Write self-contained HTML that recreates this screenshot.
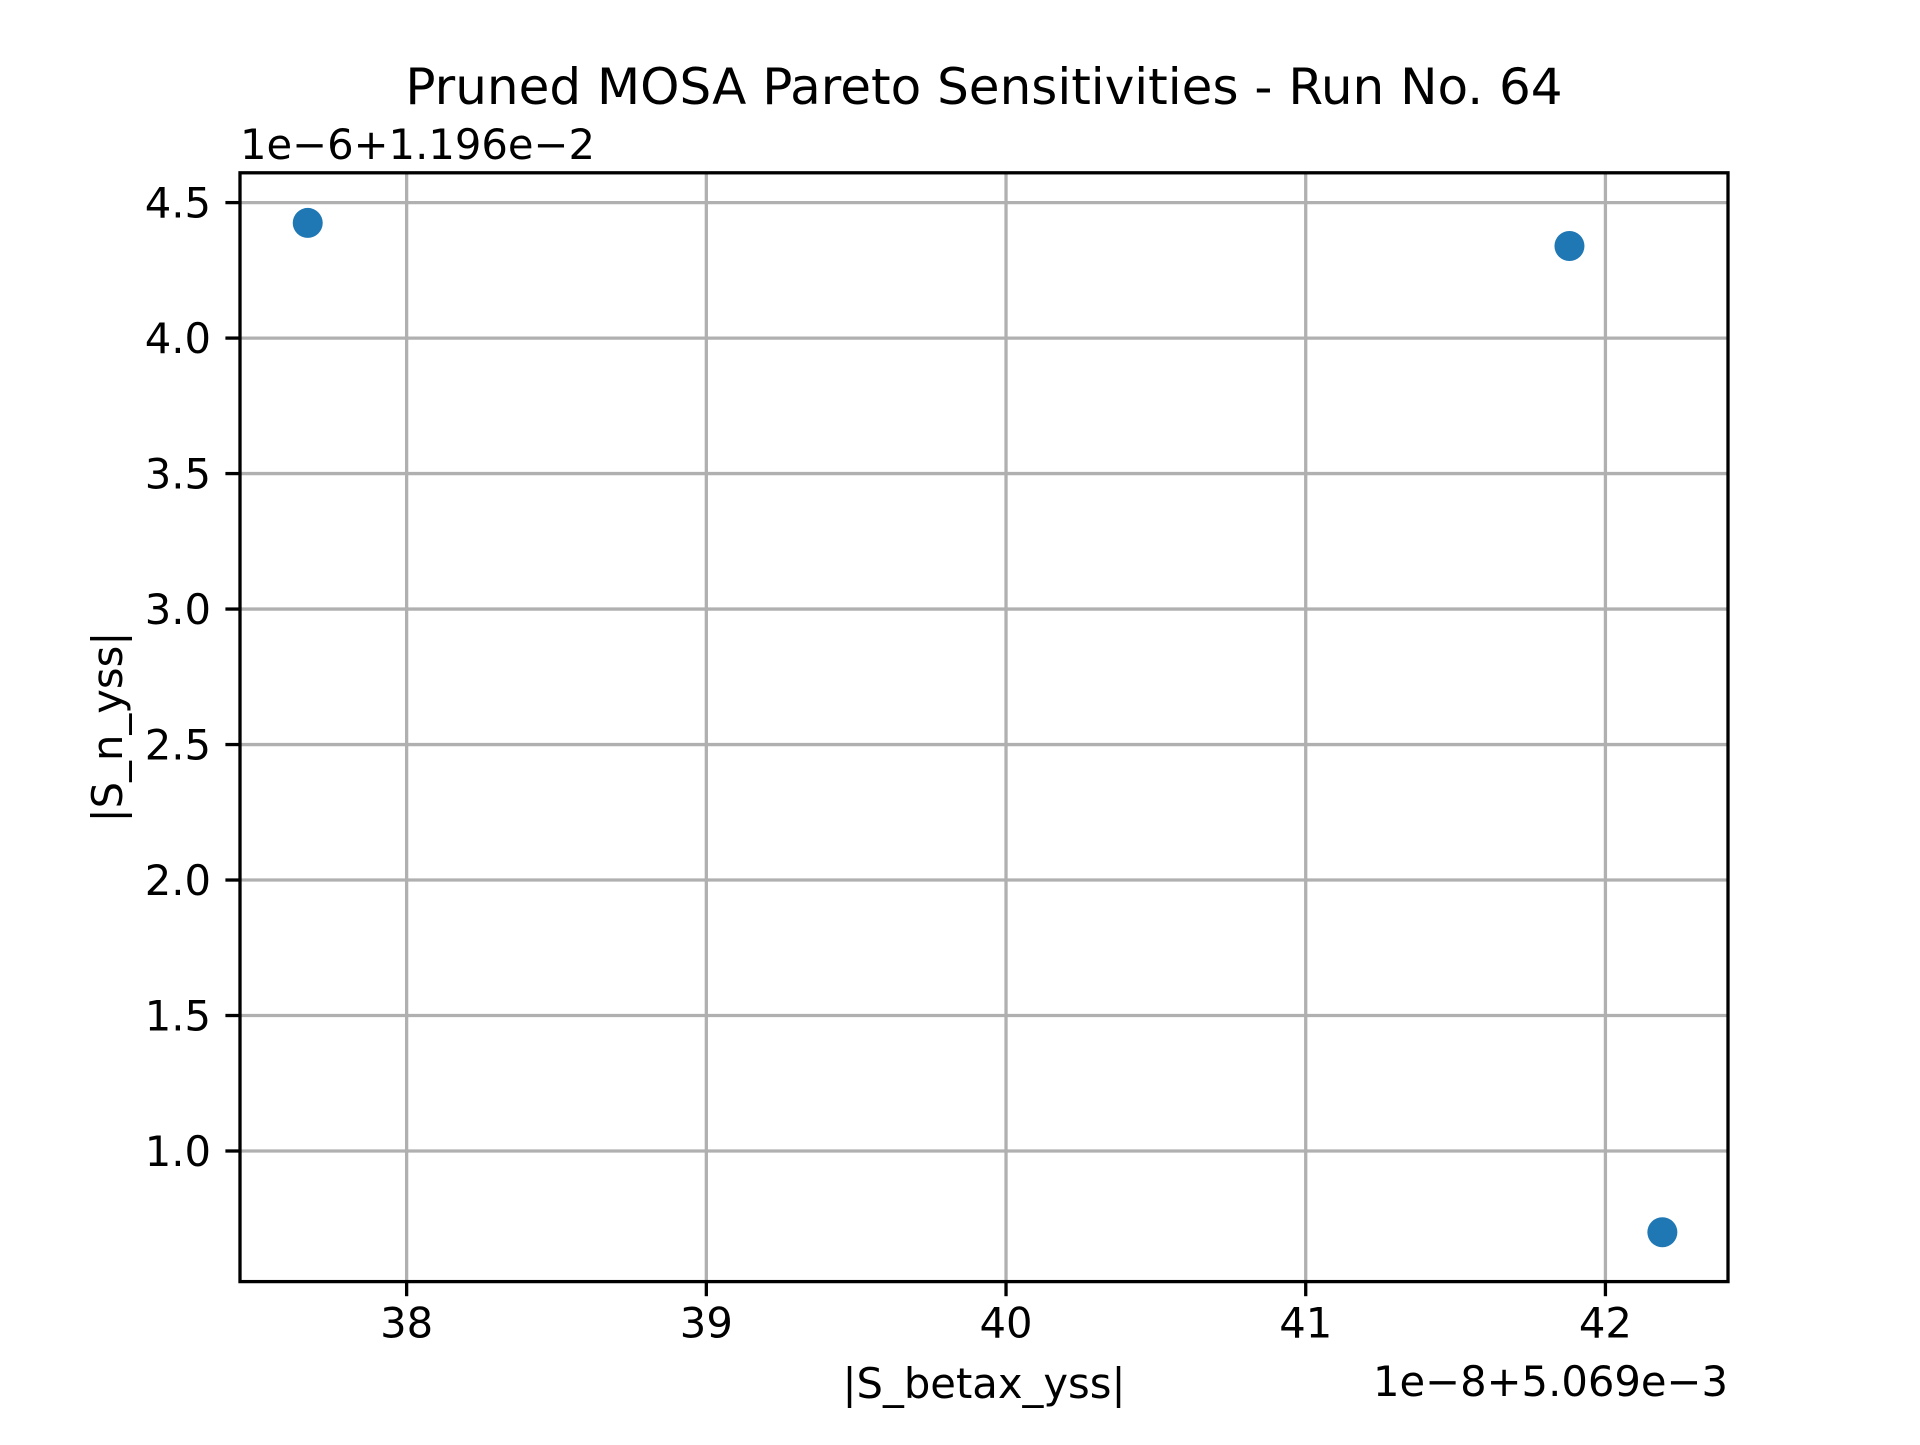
<!DOCTYPE html>
<html><head><meta charset="utf-8"><style>
html,body{margin:0;padding:0;background:#fff;}
svg text{font-family:"DejaVu Sans","Liberation Sans",sans-serif;fill:#000;}
</style></head><body>
<svg id="chart" width="1920" height="1440" viewBox="0 0 1920 1440" xmlns="http://www.w3.org/2000/svg">
<rect width="1920" height="1440" fill="#fff"/>
<text x="984" y="104" font-size="50" text-anchor="middle">Pruned MOSA Pareto Sensitivities - Run No. 64</text>
<text x="240" y="159" font-size="41.7">1e−6+1.196e−2</text>
<text x="1728" y="1396" font-size="41.7" text-anchor="end">1e−8+5.069e−3</text>
<text x="984" y="1398" font-size="41.7" text-anchor="middle">|S_betax_yss|</text>
<text x="0" y="0" font-size="41.7" text-anchor="middle" transform="translate(122,727) rotate(-90)">|S_n_yss|</text>
<g id="grid"></g><g id="ticks"></g><g id="points"></g>
<rect x="240" y="172.8" width="1488" height="1108.8" fill="none" stroke="#000" stroke-width="3.3"/>
</svg>
<script>
const xTicks=[38,39,40,41,42];
const yTicks=[1.0,1.5,2.0,2.5,3.0,3.5,4.0,4.5];
const xValues=[37.67,41.88,42.19];
const yValues=[4.425,4.34,0.70];
const L=240,R=1728,T=172.8,B=1281.6,xmin=37.444,xmax=42.409,ymin=0.518,ymax=4.610;
const sx=v=>L+(v-xmin)/(xmax-xmin)*(R-L);
const sy=v=>B-(v-ymin)/(ymax-ymin)*(B-T);
const NS="http://www.w3.org/2000/svg";
const grid=document.getElementById('grid'),ticks=document.getElementById('ticks'),pts=document.getElementById('points');
function mk(tag,attrs,parent){const e=document.createElementNS(NS,tag);for(const k in attrs)e.setAttribute(k,attrs[k]);parent.appendChild(e);return e;}
xTicks.forEach(t=>{const x=sx(t);
 const g=mk('line',{x1:x,x2:x,y1:T,y2:B,stroke:'#b0b0b0','stroke-width':3.3},grid);
 
 
 const tk=mk('line',{x1:x,x2:x,y1:B,y2:B+14.6,stroke:'#000','stroke-width':3.3},ticks);
 
 
 const lb=mk('text',{x:x,y:B+56,'font-size':41.7,'text-anchor':'middle'},ticks);lb.textContent=String(t);
 
 
});
yTicks.forEach(t=>{const y=sy(t);
 const g=mk('line',{x1:L,x2:R,y1:y,y2:y,stroke:'#b0b0b0','stroke-width':3.3},grid);
 
 
 const tk=mk('line',{x1:L-14.6,x2:L,y1:y,y2:y,stroke:'#000','stroke-width':3.3},ticks);
 
 
 const lb=mk('text',{x:L-29,y:y+15,'font-size':41.7,'text-anchor':'end'},ticks);lb.textContent=t.toFixed(1);
 
 
});
xValues.forEach((v,i)=>{
 const c=mk('circle',{cx:sx(v),cy:sy(yValues[i]),r:15,fill:'#1f77b4'},pts);
 
 
});
</script>
</body></html>
